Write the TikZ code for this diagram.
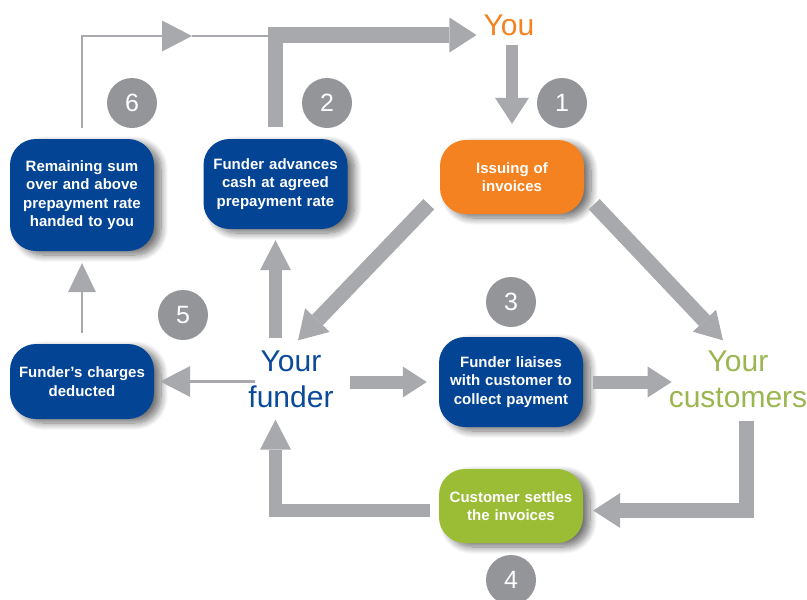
\documentclass[tikz,border=0pt]{standalone}
\usepackage{fontspec}
\setmainfont{Liberation Sans}
\usetikzlibrary{arrows.meta,shadows.blur}

\definecolor{arrgray}{RGB}{167,169,172}
\definecolor{circgray}{RGB}{147,149,152}
\definecolor{boxblue}{RGB}{4,68,148}
\definecolor{boxorange}{RGB}{245,130,32}
\definecolor{boxgreen}{RGB}{155,188,53}
\definecolor{txtblue}{RGB}{11,74,154}
\definecolor{txtgreen}{RGB}{154,182,80}

\begin{document}
\begin{tikzpicture}[x=1pt,y=-1pt,
  box/.style={rounded corners=26pt, minimum width=144pt, text width=138pt,
    align=center, text=white, inner sep=0pt,
    font=\fontsize{15}{18.3}\selectfont\bfseries,
    blur shadow={shadow xshift=7pt, shadow yshift=-4pt,
      shadow blur radius=7pt, shadow blur steps=10, shadow opacity=55}},
  actor/.style={inner sep=0pt, align=center,
    font=\fontsize{30}{36}\selectfont},
  badge/.style={circle, fill=circgray, minimum size=50pt, inner sep=0pt,
    text=white, font=\fontsize{25}{25}\selectfont},
  fat/.style={draw=arrgray, line width=#1},
  tipA/.style={-{Triangle[width=34pt,length=26pt,line width=0pt]}},
  tipB/.style={-{Triangle[width=31pt,length=30pt,line width=0pt]}},
  slim/.style={draw=arrgray, line width=2.6pt},
  tipC/.style={-{Triangle[width=31pt,length=30pt,line width=0pt]}},
]
\useasboundingbox (0,0) rectangle (807,600);

% parties
\node[actor, text=boxorange, anchor=base] (you) at (509,35) {You};
\node[actor, text=txtblue] (funder) at (291,379) {Your\\funder};
\node[actor, text=txtgreen] (cust) at (738,379) {Your\\customers};

% process steps
\node[box, fill=boxorange, minimum height=74pt] (issue) at (512,177) {Issuing of\\invoices};
\node[box, fill=boxblue, minimum height=90pt] (advance) at (275.5,184) {Funder advances\\cash at agreed\\prepayment rate};
\node[box, fill=boxblue, minimum height=112pt] (remain) at (82,195) {Remaining sum\\over and above\\prepayment rate\\handed to you};
\node[box, fill=boxblue, minimum height=75pt] (charges) at (82,381.5) {Funder’s charges\\deducted};
\node[box, fill=boxblue, minimum height=90pt] (liaise) at (511,382) {Funder liaises\\with customer to\\collect payment};
\node[box, fill=boxgreen, minimum height=74pt] (settle) at (511,506) {Customer settles\\the invoices};

% step numbers
\node[badge] (n1) at (562,103) {1};
\node[badge] (n2) at (327,103) {2};
\node[badge] (n3) at (511,302) {3};
\node[badge] (n4) at (511,580) {4};
\node[badge] (n5) at (183,315) {5};
\node[badge] (n6) at (132,103) {6};

% return of the remaining sum to you
\coordinate (mid6) at (192,36);
\draw[slim, tipC, shorten <=11pt] (remain.north) |- (mid6);
\draw[slim] (mid6) -- (mid6 -| advance.north);

% 1: you issue invoices
\draw[fat=12pt, tipA, shorten <=10pt, shorten >=16pt] (you.south -| issue.north) -- (issue.north);
% 2: advance paid to you
\draw[fat=15.5pt, -{Triangle[width=35pt,length=27pt,line width=0pt]}, shorten <=12pt]
  (advance.north) |- ([xshift=-7pt]you.base west);
% invoices go to funder and customers
\draw[fat=15pt, -{Triangle[width=34pt,length=28pt,line width=0pt]}]
  ([shift={(-11,-10)}]issue.south west) -- ([shift={(7,-10)}]funder.north);
\draw[fat=15pt, -{Triangle[width=32pt,length=27pt,line width=0pt]}]
  ([shift={(10,-10)}]issue.south east) -- ([shift={(-15,-10)}]cust.north);
% funder to advance
\draw[fat=13.5pt, tipB, shorten <=12.5pt, shorten >=11pt] (funder.north -| advance.south) -- (advance.south);
% 3: collection
\draw[fat=13pt, -{Triangle[width=31pt,length=24pt,line width=0pt]}, shorten <=16.5pt, shorten >=12pt]
  (funder.east |- liaise.west) -- (liaise.west);
\draw[fat=13pt, -{Triangle[width=31pt,length=24pt,line width=0pt]}, shorten <=10pt, shorten >=-3pt]
  (liaise.east) -- (liaise.east -| cust.west);
% 4: settlement
\coordinate (custdown) at ([shift={(8.5,13)}]cust.south);
\draw[fat=15pt, -{Triangle[width=35pt,length=27pt,line width=0pt]}]
  (custdown) |- ([shift={(10,4.5)}]settle.east);
\draw[fat=13.5pt, tipB, shorten >=12pt]
  ([shift={(-9,4.5)}]settle.west) -| (funder.south -| advance.south);
% 5: charges
\draw[slim, tipC, shorten <=-6.5pt, shorten >=6pt] (funder.west |- charges.east) -- (charges.east);
\draw[slim, -{Triangle[width=28pt,length=29pt,line width=0pt]}, shorten <=11pt, shorten >=12pt]
  (charges.north) -- (charges.north |- remain.south);
\end{tikzpicture}
\end{document}
